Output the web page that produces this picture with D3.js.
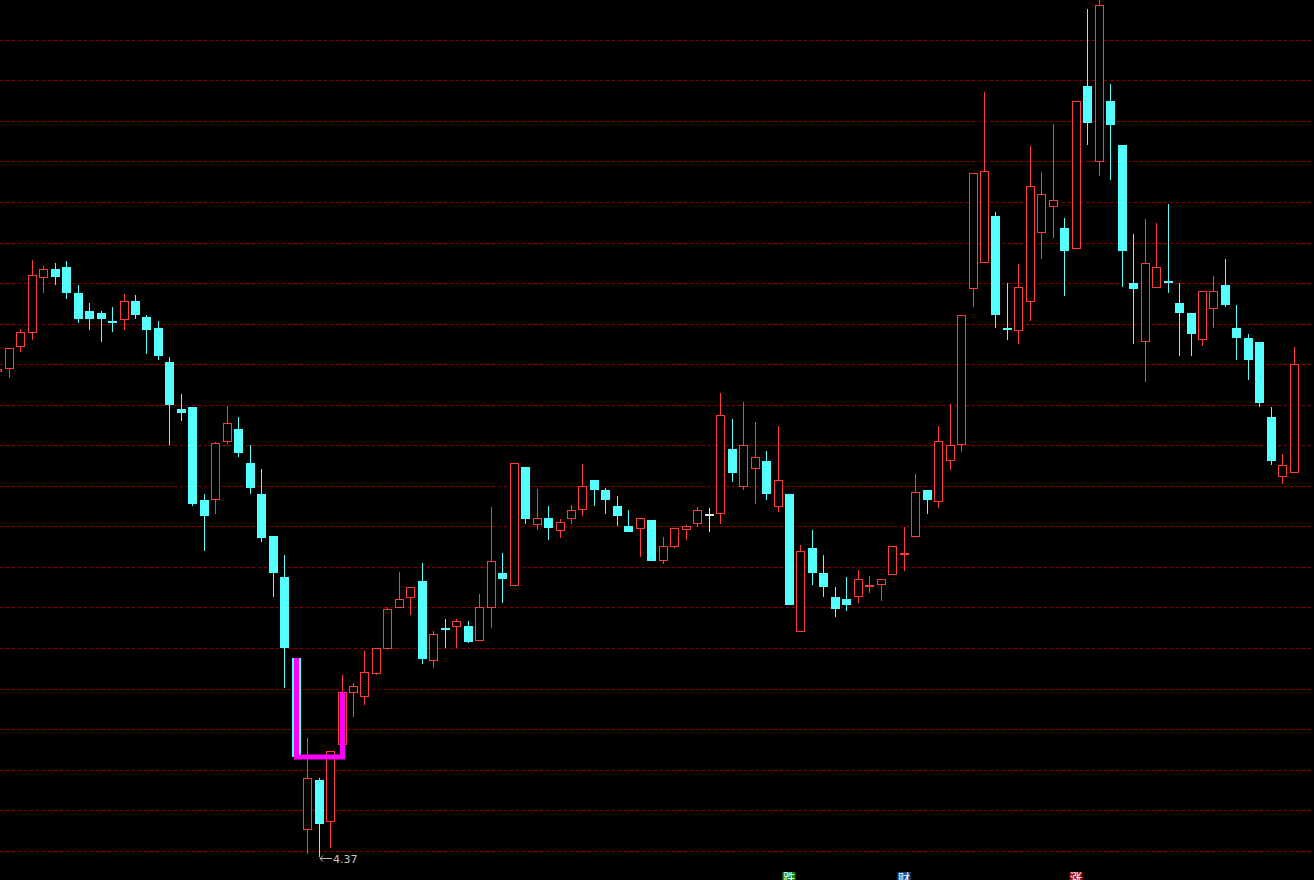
<!DOCTYPE html>
<html><head><meta charset="utf-8">
<script src="https://cdn.jsdelivr.net/npm/d3@7"></script>
<style>html,body{margin:0;padding:0;background:#000;overflow:hidden}svg{display:block}</style>
</head><body><svg id="chart" width="1314" height="880"></svg>
<script>
const opens  = [6.793,6.809,6.918,6.989,7.264,7.308,7.318,7.188,7.098,7.088,7.049,7.054,7.148,7.068,7.013,6.841,6.608,6.618,6.153,6.151,6.444,6.508,6.338,6.183,5.973,5.768,5.363,4.501,4.753,4.541,4.926,5.189,5.170,5.281,5.409,5.614,5.664,5.748,5.349,5.514,5.519,5.523,5.449,5.614,5.788,5.724,6.318,6.029,6.064,5.999,6.059,6.101,6.253,6.203,6.123,6.023,6.009,6.053,5.846,5.919,6.001,6.031,6.081,6.081,6.408,6.219,6.306,6.348,6.119,6.183,5.491,5.913,5.788,5.668,5.658,5.666,5.716,5.726,5.776,5.876,5.969,6.203,6.141,6.346,6.426,7.206,7.336,7.573,7.014,6.999,7.144,7.489,7.619,7.513,7.409,8.223,7.844,8.148,7.928,7.238,6.941,7.214,7.248,7.138,7.088,6.951,7.106,7.228,7.013,6.963,6.943,6.568,6.269,6.286];
const highs  = [6.815,6.912,7.008,7.353,7.323,7.336,7.348,7.228,7.138,7.098,7.118,7.183,7.178,7.078,7.048,6.868,6.683,6.618,6.183,6.441,6.623,6.566,6.426,6.308,5.973,5.878,5.363,4.961,4.761,4.898,5.278,5.239,5.398,5.411,5.619,5.793,5.716,5.838,5.498,5.558,5.558,5.549,5.683,6.119,5.889,6.338,6.318,6.208,6.123,6.058,6.128,6.333,6.253,6.213,6.173,6.103,6.063,6.053,5.968,6.013,6.029,6.118,6.113,6.688,6.558,6.643,6.543,6.398,6.523,6.183,5.928,6.003,5.878,5.718,5.768,5.803,5.773,5.756,5.921,6.018,6.283,6.203,6.523,6.633,7.076,7.786,8.193,7.593,7.236,7.333,7.923,7.791,8.033,7.563,8.146,8.608,8.652,8.233,7.928,7.483,7.558,7.538,7.633,7.238,7.088,7.198,7.273,7.358,7.128,6.983,6.943,6.618,6.383,6.918];
const lows   = [6.785,6.764,6.893,6.953,7.189,7.229,7.159,7.039,7.003,6.943,6.994,7.003,7.058,6.884,6.854,6.428,6.549,6.124,5.899,6.084,6.431,6.369,6.184,5.944,5.669,5.214,4.869,4.381,4.370,4.411,4.926,5.069,5.130,5.278,5.404,5.614,5.578,5.333,5.314,5.414,5.414,5.436,5.449,5.514,5.638,5.724,6.033,6.004,5.954,5.964,6.034,6.074,6.124,6.083,6.024,5.994,5.869,5.849,5.831,5.914,5.954,6.018,5.994,6.033,6.244,6.203,6.134,6.154,6.094,5.629,5.491,5.729,5.669,5.569,5.599,5.639,5.689,5.649,5.776,5.799,5.969,6.084,6.114,6.301,6.391,7.119,7.336,7.014,6.954,6.934,7.049,7.359,7.464,7.171,7.409,7.929,7.774,7.754,7.219,6.934,6.744,7.214,7.189,6.874,6.874,6.924,7.014,7.119,6.854,6.754,6.619,6.329,6.233,6.286];
const closes = [6.810,6.911,6.993,7.278,7.306,7.269,7.189,7.059,7.059,7.059,7.039,7.148,7.079,7.004,6.873,6.629,6.589,6.134,6.074,6.436,6.538,6.389,6.214,5.964,5.789,5.414,4.869,4.761,4.534,4.898,5.191,5.223,5.291,5.411,5.606,5.656,5.716,5.356,5.481,5.504,5.546,5.444,5.616,5.848,5.758,6.338,6.056,6.063,6.014,6.041,6.103,6.223,6.204,6.154,6.074,5.994,6.063,5.849,5.923,6.013,6.021,6.101,6.081,6.576,6.289,6.428,6.368,6.184,6.253,5.629,5.898,5.789,5.719,5.609,5.629,5.756,5.726,5.756,5.921,5.886,6.191,6.154,6.446,6.426,7.076,7.786,7.796,7.079,7.003,7.216,7.721,7.681,7.651,7.399,8.146,8.038,8.626,8.028,7.399,7.209,7.336,7.318,7.239,7.089,6.984,7.198,7.198,7.129,6.964,6.854,6.639,6.349,6.326,6.831];

// horizontal dashed reference levels
const gridLevels = [8.451,8.248,8.046,7.843,7.640,7.437,7.235,7.032,6.829,6.627,6.424,6.221,6.018,5.815,5.613,5.410,5.207,5.004,4.802,4.599,4.396];

// magenta bottom-bracket indicator: [candle index, price]
const bracketIdx   = [26, 26, 30, 30];
const bracketPrice = [5.363, 4.868, 4.868, 5.191];

// event markers at the bottom
const markerIdx    = [69, 79, 94];
const markerText   = ["跌", "财", "涨"];
const markerColor  = ["#0a8a0a", "#1a4f8c", "#9a0e0e"];

const lowLabel = "4.37";
const lowIdx = 28;

const W = 1314, H = 880;
const svg = d3.select("#chart");
svg.append("rect").attr("width", W).attr("height", H).attr("fill", "#000");

const n = opens.length;
const step = 11.4732;
const r0 = -2.17 - step / 2;
const x = d3.scaleBand().domain(d3.range(n)).range([r0, r0 + step * n])
  .paddingInner(0.2155).paddingOuter(0.2155 / 2);
const y = d3.scaleLinear().domain([4.37, 8.6525]).range([856.5, 0]);

const UP = "#ff3c3c", DOWN = "#54ffff", FLAT = "#e6e6e6";
const px = v => Math.round(v);

// grid
svg.append("g").selectAll("line").data(gridLevels).join("line")
  .attr("x1", 0).attr("x2", W)
  .attr("y1", d => Math.floor(y(d)) + 0.5).attr("y2", d => Math.floor(y(d)) + 0.5)
  .attr("stroke", "#8a0000").attr("stroke-width", 1).attr("stroke-dasharray", "3,3");

const data = d3.range(n).map(i => ({i, o: opens[i], h: highs[i], l: lows[i], c: closes[i]}));
const cxOf = i => Math.round(x(i) + x.bandwidth() / 2 - 0.5) + 0.5;
const colorOf = d => d.c > d.o ? UP : (d.c < d.o ? DOWN : FLAT);

const g = svg.append("g").attr("shape-rendering", "crispEdges");
data.forEach(d => {
  const cx = cxOf(d.i);
  const col = colorOf(d);
  const yh = px(y(d.h)), yl = px(y(d.l));
  const yt = px(y(Math.max(d.o, d.c))), yb = px(y(Math.min(d.o, d.c)));
  if (d.c > d.o) {
    // hollow red
    if (yh < yt) g.append("line").attr("x1", cx).attr("x2", cx).attr("y1", yh).attr("y2", yt).attr("stroke", col);
    if (yl > yb) g.append("line").attr("x1", cx).attr("x2", cx).attr("y1", yb).attr("y2", yl).attr("stroke", col);
    g.append("rect").attr("x", cx - 4).attr("y", yt + 0.5).attr("width", 8).attr("height", Math.max(1, yb - yt - 1))
      .attr("fill", "#000").attr("stroke", col).attr("stroke-width", 1);
  } else {
    g.append("line").attr("x1", cx).attr("x2", cx).attr("y1", yh).attr("y2", yl).attr("stroke", col);
    g.append("rect").attr("x", cx - 4.5).attr("y", yt).attr("width", 9).attr("height", Math.max(2, yb - yt))
      .attr("fill", col);
  }
});

// magenta bracket
const bpts = bracketIdx.map((k, j) => [cxOf(k), y(bracketPrice[j])]);
svg.append("path").attr("d", d3.line()(bpts))
  .attr("fill", "none").attr("stroke", "#ff00ff").attr("stroke-width", 5)
  .attr("stroke-linejoin", "miter").attr("stroke-linecap", "butt");

// low label with arrow
const lx = cxOf(lowIdx) + 0.5, ly = Math.round(y(lows[lowIdx])) + 1.5;
const lab = svg.append("g");
lab.append("line").attr("x1", lx).attr("x2", lx + 12).attr("y1", ly).attr("y2", ly).attr("stroke", "#bdbdbd").attr("stroke-width", 1);
lab.append("path").attr("d", `M${lx},${ly} l3,-3 M${lx},${ly} l3,3`).attr("stroke", "#bdbdbd").attr("fill", "none");
lab.append("text").attr("x", lx + 13).attr("y", ly + 4.5).text(lowLabel)
  .attr("fill", "#c8c8c8").attr("font-family", "DejaVu Sans, sans-serif").attr("font-size", 11);

// bottom markers
const mk = svg.append("g");
markerIdx.forEach((k, j) => {
  const cx = cxOf(k);
  mk.append("rect").attr("x", cx - 7).attr("y", 872).attr("width", 13).attr("height", 13).attr("fill", markerColor[j]);
  mk.append("text").attr("x", cx - 0.5).attr("y", 883).attr("text-anchor", "middle")
    .attr("font-family", "Noto Sans CJK SC, sans-serif").attr("font-size", 12).attr("fill", "#fff").text(markerText[j]);
});
</script></body></html>
